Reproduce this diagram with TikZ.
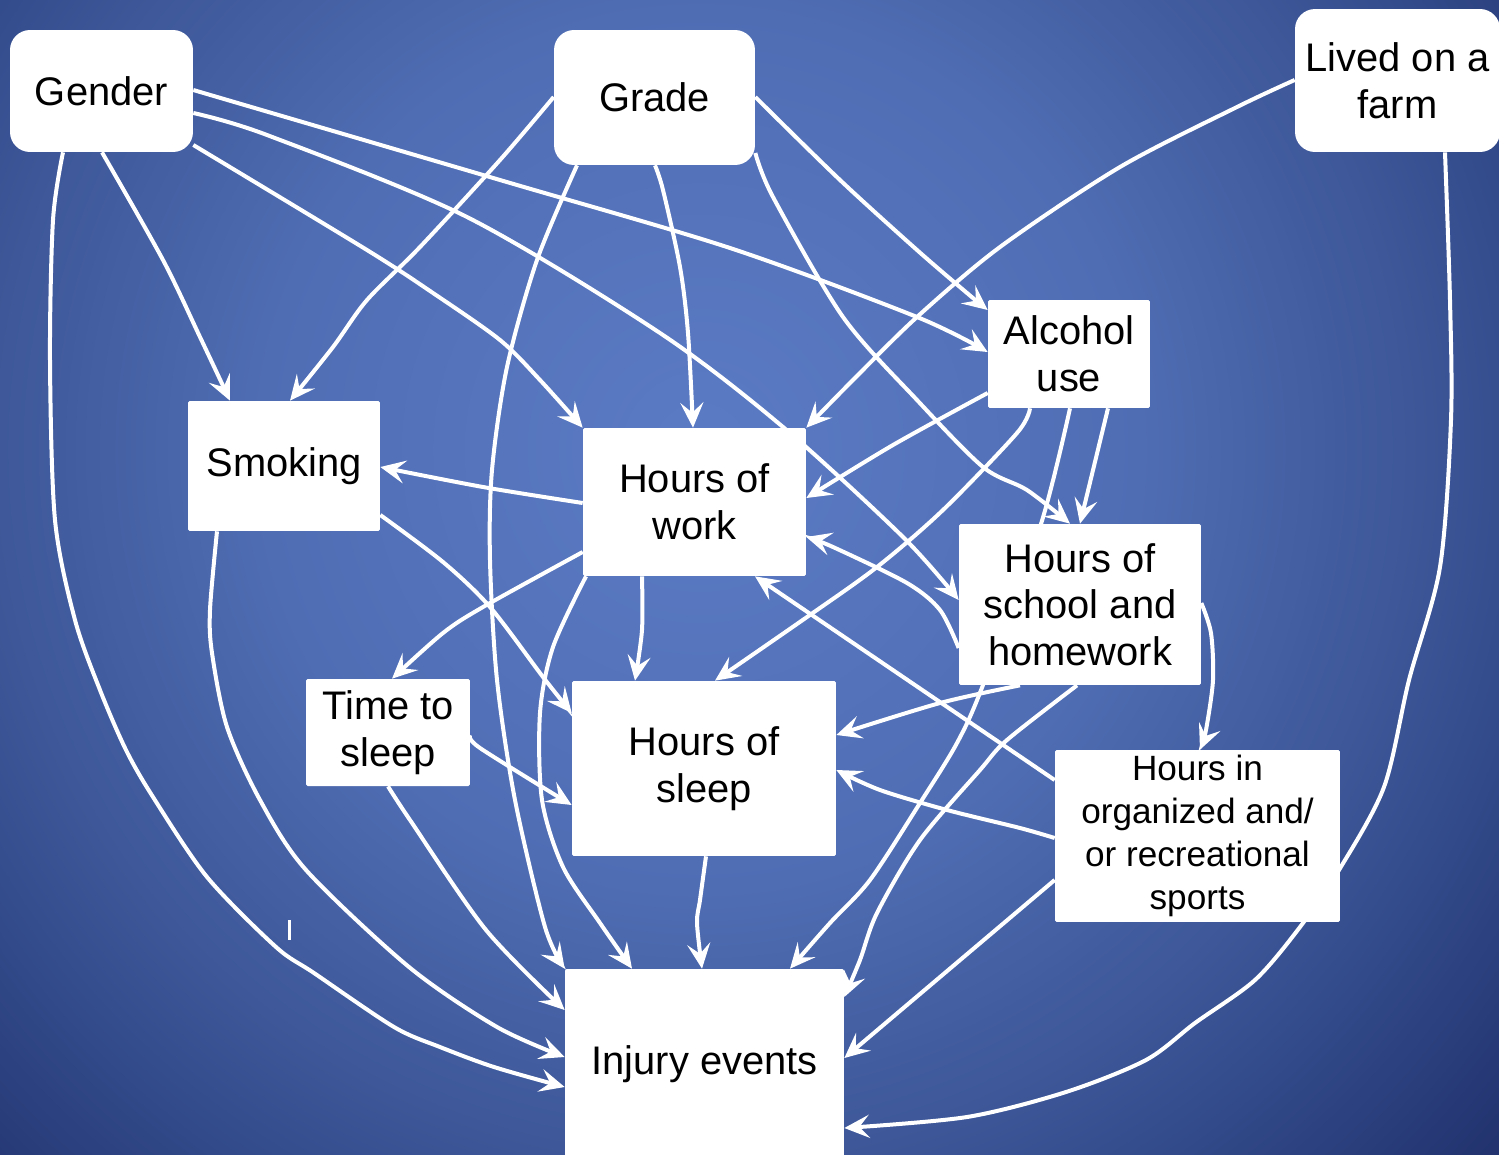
\documentclass[tikz,border=0pt]{standalone}
\usepackage{fontspec}
\setmainfont{Liberation Sans}
\usetikzlibrary{arrows.meta}
\definecolor{bg0}{HTML}{5B7BC5}
\definecolor{bg1}{HTML}{4F6DB3}
\definecolor{bg2}{HTML}{3E5899}
\definecolor{bg3}{HTML}{344D8D}
\definecolor{bg4}{HTML}{22336F}
\pgfdeclareradialshading{bgshade}{\pgfpoint{0bp}{0bp}}{color(0bp)=(bg0); color(10bp)=(bg1); color(15.9bp)=(bg2); color(18.6bp)=(bg3); color(24bp)=(bg4); color(50bp)=(bg4)}
\pgfdeclarelayer{back}
\pgfdeclarelayer{edges}
\pgfsetlayers{back,edges,main}
\tikzset{
  box/.style={fill=white, inner sep=0pt, align=center, text=black,
    font=\fontsize{22.7}{26.6}\selectfont, rounded corners=0.03cm},
  rbox/.style={box, rounded corners=0.4cm},
  link/.style={draw=white, line width=0.08cm,
    -{Stealth[length=0.5cm,width=0.46cm,inset=0.2cm]}},
}
\begin{document}
\begin{tikzpicture}[x=0.02cm,y=-0.02cm]
\useasboundingbox (0,0) rectangle (1499,1154);
\begin{pgfonlayer}{back}
  \clip (0,0) rectangle (1499,1154);
  \shade[shading=bgshade] (700,450) circle (1100);
  \draw[white, line width=0.06cm] (289,920) -- (289,940);
\end{pgfonlayer}

% nodes
\node[rbox, minimum width=3.66cm, minimum height=2.44cm] (gender) at (101.5,91) {Gender};
\node[rbox, minimum width=4.02cm, minimum height=2.70cm] (grade) at (654.5,97.5) {Grade};
\node[rbox, minimum width=4.10cm, minimum height=2.86cm] (farm) at (1397.5,80.5) {Lived on a\\farm};
\node[box, minimum width=3.24cm, minimum height=2.16cm] (alcohol) at (1069,354) {Alcohol\\use};
\node[box, minimum width=3.84cm, minimum height=2.60cm] (smoking) at (284,466) {Smoking};
\node[box, minimum width=4.46cm, minimum height=2.96cm] (work) at (694.5,502) {Hours of\\work};
\node[box, minimum width=4.84cm, minimum height=3.22cm] (school) at (1080,604.5) {Hours of\\school and\\homework};
\node[box, minimum width=3.28cm, minimum height=2.14cm] (tts) at (388,732.5) {Time to\\sleep};
\node[box, minimum width=5.28cm, minimum height=3.50cm] (sleep) at (704,768.5) {Hours of\\sleep};
\node[box, minimum width=5.70cm, minimum height=3.44cm, font=\fontsize{20}{24.4}\selectfont] (sports) at (1197.5,836) {Hours in\\organized and/\\or recreational\\sports};
\node[box, minimum width=5.58cm, minimum height=3.82cm] (injury) at (704.5,1064.5) {Injury events};

\begin{pgfonlayer}{edges}
% Gender
\draw[link] plot[smooth] coordinates {(gender.east |- 0,90) (500,180) (730,248) (917,317) (alcohol.west |- 0,352)};
\draw[link] plot[smooth] coordinates {(gender.east |- 0,113) (267,135) (467,217) (660,333) (783,427) (903,537) (school.west |- 0,600)};
\draw[link] plot[smooth] coordinates {(gender.east |- 0,145) (367,250) (433,293) (500,340) (540,380) (work.north west)};
\draw[link] plot[smooth] coordinates {(gender.south -| 102,0) (163,260) (200,337) (smoking.north -| 230,0)};
\draw[link] plot[smooth] coordinates {(gender.south -| 63,0) (53,220) (50,360) (55,520) (75,620) (100,690) (126,750) (153,797) (207,877) (276,947) (314,973) (394,1027) (440,1047) (494,1067) (injury.west |- 0,1087)};
% Grade
\draw[link] plot[smooth] coordinates {(grade.west |- 0,97) (500,160) (420,247) (367,300) (333,347) (smoking.north -| 290,0)};
\draw[link] plot[smooth] coordinates {(grade.south -| 655,0) (663,190) (680,267) (688,333) (work.north -| 693,0)};
\draw[link] plot[smooth] coordinates {(grade.south -| 577,0) (537,260) (507,367) (492,470) (490,560) (497,680) (515,800) (545,927) (injury.north west)};
\draw[link] plot[smooth] coordinates {(grade.east |- 0,97) (840,180) (917,250) (967,293) (alcohol.west |- 0,310)};
\draw[link] plot[smooth] coordinates {(grade.east |- 0,153) (773,197) (843,317) (917,400) (983,467) (1027,490) (school.north -| 1070,0)};
% Farm
\draw[link] plot[smooth] coordinates {(farm.west |- 0,80) (1237,107) (1120,167) (1000,247) (917,317) (853,380) (work.north east)};
\draw[link] plot[smooth] coordinates {(farm.south -| 1445,0) (1450,300) (1451,420) (1440,567) (1409,680) (1384,787) (1339,870) (1300,927) (1255,980) (1195,1023) (1146,1060) (1066,1092) (967,1117) (injury.east |- 0,1128)};
% Alcohol
\draw[link] plot[smooth] coordinates {(alcohol.west |- 0,393) (893,445) (work.east |- 0,498)};
\draw[link] plot[smooth] coordinates {(alcohol.south -| 1030,0) (1017,433) (943,510) (877,567) (807,617) (sleep.north -| 715,0)};
\draw[link] (alcohol.south -| 1108,0) -- (school.north -| 1080,0);
\draw[link] plot[smooth] coordinates {(alcohol.south -| 1070,0) (1041,524) (983,685) (957,743) (920,803) (870,880) (830,923) (injury.north -| 790,0)};
% School
\draw[link] plot[smooth] coordinates {(school.west |- 0,648) (940,610) (907,583) (833,547) (work.east |- 0,537)};
\draw[link] plot[smooth] coordinates {(school.south -| 1020,0) (940,703) (sleep.east |- 0,735)};
\draw[link] plot[smooth] coordinates {(school.east |- 0,603) (1211,633) (1213,680) (1206,730) (sports.north -| 1200,0)};
\draw[link] plot[smooth] coordinates {(school.south -| 1077,0) (1007,740) (980,770) (920,840) (877,913) (860,960) (injury.east |- 0,997)};
% Sports
\draw[link] (sports.west |- 0,780) -- (work.south -| 755,0);
\draw[link] plot[smooth] coordinates {(sports.west |- 0,838) (1020,828) (947,810) (880,790) (sleep.east |- 0,770)};
\draw[link] (sports.west |- 0,880) -- (injury.east |- 0,1058);
% Work
\draw[link] plot[smooth] coordinates {(work.west |- 0,503) (483,487) (smoking.east |- 0,467)};
\draw[link] plot[smooth] coordinates {(work.west |- 0,552) (483,607) (443,633) (tts.north -| 392,0)};
\draw[link] plot[smooth] coordinates {(work.south -| 642,0) (642,630) (sleep.north -| 635,0)};
\draw[link] plot[smooth] coordinates {(work.south -| 586,0) (553,647) (540,713) (542,800) (563,867) (600,923) (injury.north -| 632,0)};
% Smoking
\draw[link] plot[smooth] coordinates {(smoking.east |- 0,515) (443,562) (490,607) (543,677) (sleep.west |- 0,713)};
\draw[link] plot[smooth] coordinates {(smoking.south -| 217,0) (210,610) (212,653) (227,727) (260,800) (306,870) (409,967) (497,1027) (injury.west |- 0,1057)};
% Time to sleep
\draw[link] plot[smooth] coordinates {(tts.east |- 0,735) (480,748) (sleep.west |- 0,805)};
\draw[link] plot[smooth] coordinates {(tts.south -| 388,0) (410,820) (486,930) (injury.west |- 0,1010)};
% Sleep
\draw[link] plot[smooth] coordinates {(sleep.south -| 706,0) (700,900) (697,923) (injury.north -| 702,0)};
\end{pgfonlayer}
\end{tikzpicture}
\end{document}
